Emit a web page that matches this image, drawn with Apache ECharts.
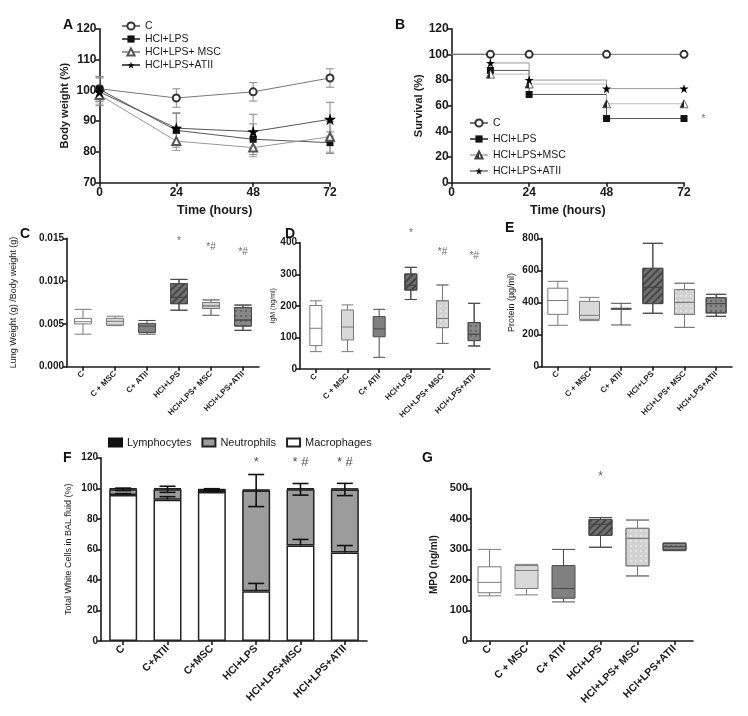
<!DOCTYPE html>
<html><head><meta charset="utf-8">
<script src="https://cdn.jsdelivr.net/npm/echarts@6/dist/echarts.min.js"></script>
<style>html,body{margin:0;padding:0;background:#fff}#c{width:748px;height:716px}</style>
</head><body><div id="c"></div>
<script>
// ---------------- DATA ----------------
// A: body weight (%)
const timeA = [0, 24, 48, 72];
const bwC = [100.5, 97.5, 99.5, 104.0];
const bwCErr = [4, 3, 3, 3];
const bwLPS = [100.3, 87.0, 84.1, 83.0];
const bwLPSErr = [4, 5.5, 5, 3.5];
const bwMSC = [98.5, 83.5, 81.4, 84.9];
const bwMSCErr = [3, 3, 3, 5];
const bwATII = [99.5, 87.7, 86.6, 90.6];
const bwATIIErr = [4.5, 5, 5.6, 5.5];
// B: survival (%)
const survTime = [0, 12, 24, 48, 72];
const survC = [100, 100, 100, 100, 100];
const survLPS = [100, 87.5, 68.75, 50, 50];
const survMSC = [100, 84.6, 76.9, 61.5, 61.5];
const survATII = [100, 93.3, 80, 73.3, 73.3];
// C, D, E, G categories
const boxCats = ['C', 'C + MSC', 'C+ ATII', 'HCl+LPS', 'HCl+LPS+ MSC', 'HCl+LPS+ATII'];
// [min, Q1, median, Q3, max]
const lungW = [
  [0.0038, 0.0050, 0.00526, 0.00565, 0.0067],
  [0.0048, 0.00487, 0.0053, 0.00565, 0.0059],
  [0.0038, 0.0040, 0.00475, 0.00506, 0.0054],
  [0.0066, 0.00736, 0.0081, 0.0097, 0.0102],
  [0.0060, 0.0068, 0.0071, 0.0075, 0.0078],
  [0.00425, 0.00475, 0.00545, 0.0069, 0.0072]
];
const igm = [
  [55, 74, 129, 201, 216],
  [55, 92, 133, 187, 203],
  [37, 102, 127, 166, 189],
  [220, 250, 265, 301, 322],
  [81, 131, 160, 216, 266],
  [73, 90, 110, 147, 208]
];
const protein = [
  [258, 326, 412, 489, 532],
  [287, 295, 320, 407, 432],
  [260, 358, 360, 364, 395],
  [333, 393, 495, 613, 769],
  [245, 326, 401, 480, 520],
  [314, 335, 393, 430, 451]
];
const mpo = [
  [148, 158, 192, 243, 300],
  [151, 172, 231, 247, 251],
  [128, 140, 172, 247, 300],
  [307, 346, 382, 398, 404],
  [213, 246, 336, 369, 396],
  [296, 298, 309, 320, 320]
];
// F: BAL cells (%)
const fCats = ['C', 'C+ATII', 'C+MSC', 'HCl+LPS', 'HCl+LPS+MSC', 'HCl+LPS+ATII'];
const macro = [95.5, 92.5, 97.5, 32.5, 62.5, 58.0];
const neutro = [3.8, 6.8, 1.5, 66.0, 36.8, 41.2];
const lymph = [0.7, 0.7, 0.5, 0.7, 0.7, 0.7];
const macroErr = [1, 2, 0.5, 5.2, 4, 4.5];
const totalErr = [0.8, 2, 0.7, 10.5, 3.8, 4];
// significance annotations [category/time, value, text]
const annC = [[3, 0.0146, '*'], [4, 0.0139, '*#'], [5, 0.01337, '*#']];
const annD = [[3, 430, '*'], [4, 371, '*#'], [5, 358, '*#']];
const annF = [[3, 117, '*'], [4, 117, '* #'], [5, 117, '* #']];
const annG = [[3, 538, '*']];
const annB = [[78, 50, '*']];

// ---------------- STYLE HELPERS ----------------
const INK = '#1a1a1a';
const STAR = 'path://M50,0L61.2,34.5L97.6,34.5L68.2,55.9L79.4,90.5L50,69.1L20.6,90.5L31.8,55.9L2.4,34.5L38.8,34.5Z';
const halfTri = {type: 'linear', x: 0, y: 0, x2: 1, y2: 0, colorStops: [
  {offset: 0, color: '#222'}, {offset: 0.5, color: '#222'}, {offset: 0.5, color: '#fff'}, {offset: 1, color: '#fff'}]};

function axLine() { return {show: true, lineStyle: {color: INK, width: 1.6}}; }
function axTick(align) { return {show: true, alignWithLabel: !!align, length: 4, lineStyle: {color: INK, width: 1.6}}; }
function yAx(grid, min, max, interval, fs, name, nameGap, nameFs, bold, fmt) {
  const a = {type: 'value', gridIndex: grid, min, max, interval,
    axisLine: axLine(), axisTick: axTick(), splitLine: {show: false},
    axisLabel: {fontSize: fs, fontWeight: 'bold', color: INK, margin: 3},
    name, nameLocation: 'middle', nameGap,
    nameTextStyle: {fontSize: nameFs, fontWeight: bold ? 'bold' : 'normal', color: INK}};
  if (fmt) a.axisLabel.formatter = fmt;
  return a;
}
function xCat(grid, cats, fs) {
  return {type: 'category', gridIndex: grid, data: cats, boundaryGap: true,
    axisLine: axLine(), axisTick: axTick(true),
    axisLabel: {rotate: 45, fontSize: fs, fontWeight: 'bold', color: INK, interval: 0, margin: 6}};
}
function xTime(grid) {
  return {type: 'value', gridIndex: grid, min: 0, max: 72, interval: 24,
    axisLine: axLine(), axisTick: axTick(), splitLine: {show: false},
    axisLabel: {fontSize: 12, fontWeight: 'bold', color: INK, margin: 4},
    name: 'Time (hours)', nameLocation: 'middle', nameGap: 21,
    nameTextStyle: {fontSize: 12.5, fontWeight: 'bold', color: INK}};
}
const hatch = {symbol: 'rect', symbolSize: 1, dashArrayX: [1, 0], dashArrayY: [1.2, 2.2], rotation: -Math.PI / 4, color: 'rgba(35,35,35,0.55)'};
const dotsLight = {symbol: 'circle', symbolSize: 0.8, dashArrayX: [1.4, 2.2], dashArrayY: [1.4, 2.2], color: 'rgba(255,255,255,0.9)'};
const dotsDark = {symbol: 'circle', symbolSize: 0.8, dashArrayX: [1.4, 2.2], dashArrayY: [1.4, 2.2], color: 'rgba(50,50,50,0.8)'};
const boxStyles = [
  {color: '#ffffff', borderColor: '#7a7a7a', borderWidth: 1},
  {color: '#d9d9d9', borderColor: '#7a7a7a', borderWidth: 1},
  {color: '#808080', borderColor: '#4a4a4a', borderWidth: 1},
  {color: '#707070', borderColor: '#4a4a4a', borderWidth: 1, decal: hatch},
  {color: '#d2d2d2', borderColor: '#7a7a7a', borderWidth: 1, decal: dotsLight},
  {color: '#878787', borderColor: '#4a4a4a', borderWidth: 1, decal: dotsDark}
];
function boxSeries(idx, data, w) {
  return {type: 'boxplot', xAxisIndex: idx, yAxisIndex: idx, boxWidth: [w, w], silent: true,
    data: data.map((d, i) => ({value: d, itemStyle: boxStyles[i]}))};
}
function annSeries(idx, arr, fs, color) {
  return {type: 'scatter', xAxisIndex: idx, yAxisIndex: idx, symbolSize: 1, clip: false, silent: true, z: 10,
    itemStyle: {color: 'rgba(0,0,0,0)'},
    data: arr.map(a => ({value: [a[0], a[1]], name: a[2]})),
    label: {show: true, position: 'inside', formatter: '{b}', fontSize: fs, color: color}};
}
function errA(x, y, e, color) {
  return {type: 'custom', xAxisIndex: 0, yAxisIndex: 0, silent: true, z: 2,
    data: x.map((t, i) => [t, y[i], e[i]]),
    renderItem: (p, api) => {
      const t = api.value(0), v = api.value(1), er = api.value(2);
      const a = api.coord([t, v + er]), b = api.coord([t, v - er]);
      const w = 4, st = {stroke: color, lineWidth: 1};
      return {type: 'group', children: [
        {type: 'line', shape: {x1: a[0], y1: a[1], x2: b[0], y2: b[1]}, style: st},
        {type: 'line', shape: {x1: a[0] - w, y1: a[1], x2: a[0] + w, y2: a[1]}, style: st},
        {type: 'line', shape: {x1: b[0] - w, y1: b[1], x2: b[0] + w, y2: b[1]}, style: st}]};
    }};
}
function errF(base, lo, hi) {
  return {type: 'custom', xAxisIndex: 5, yAxisIndex: 5, silent: true, z: 6,
    data: base.map((v, i) => [i, v, lo[i], hi[i]]),
    renderItem: (p, api) => {
      const i = api.value(0), v = api.value(1), l = api.value(2), h = api.value(3);
      const a = api.coord([i, v + h]), b = api.coord([i, v - l]);
      const w = 8, st = {stroke: '#111', lineWidth: 1.6};
      const ch = [{type: 'line', shape: {x1: a[0], y1: a[1], x2: b[0], y2: b[1]}, style: st},
                  {type: 'line', shape: {x1: a[0] - w, y1: a[1], x2: a[0] + w, y2: a[1]}, style: st}];
      if (l > 0) ch.push({type: 'line', shape: {x1: b[0] - w, y1: b[1], x2: b[0] + w, y2: b[1]}, style: st});
      return {type: 'group', children: ch};
    }};
}
const stackTop = macro.map((m, i) => m + neutro[i]);
const zeros = macro.map(() => 0);
const bNames = {sC: 'C', sLPS: 'HCl+LPS', sMSC: 'HCl+LPS+MSC', sATII: 'HCl+LPS+ATII'};
function firstNone(t, v) { return t.map((x, i) => i === 0 ? {value: [x, v[i]], symbol: 'none'} : [x, v[i]]); }

const letter = (t, l, tp) => ({text: t, left: l, top: tp, textStyle: {fontSize: 14, fontWeight: 'bold', color: '#111'}});

const option = {
  animation: false,
  textStyle: {fontFamily: 'Liberation Sans, Arial, sans-serif'},
  title: [letter('A', 58, 13), letter('B', 390, 13), letter('C', 15, 222), letter('D', 280, 222),
          letter('E', 500, 216), letter('F', 58, 446), letter('G', 417, 446)],
  grid: [
    {left: 99.5, top: 28.7, width: 230.5, height: 154},
    {left: 451.7, top: 28.7, width: 232.3, height: 154},
    {left: 67, top: 238.3, width: 192, height: 128.4},
    {left: 300, top: 242.7, width: 190, height: 126.3},
    {left: 542, top: 238.3, width: 190, height: 128.4},
    {left: 101, top: 457.7, width: 266, height: 183.3},
    {left: 471, top: 488.3, width: 222, height: 152.7}
  ],
  xAxis: [xTime(0), xTime(1), xCat(2, boxCats, 8), xCat(3, boxCats, 8), xCat(4, boxCats, 8),
          xCat(5, fCats, 10.5), xCat(6, boxCats, 10.5)],
  yAxis: [
    yAx(0, 70, 120, 10, 12, 'Body weight (%)', 29, 11, true),
    yAx(1, 0, 120, 20, 12, 'Survival (%)', 27, 11, true),
    yAx(2, 0, 0.015, 0.005, 10, 'Lung Weight (g) /Body weight (g)', 49, 9, false, v => v.toFixed(3)),
    yAx(3, 0, 400, 100, 10, 'IgM (ng/ml)', 20, 7, false),
    yAx(4, 0, 800, 200, 10, 'Protein (µg/ml)', 26, 9, false),
    yAx(5, 0, 120, 20, 10, 'Total White Cells in BAL fluid (%)', 28, 9, false),
    yAx(6, 0, 500, 100, 11, 'MPO (ng/ml)', 32, 10, true)
  ],
  legend: [
    {orient: 'vertical', left: 116, top: 15, itemWidth: 18, itemHeight: 9, itemGap: 1,
     textStyle: {fontSize: 10.5, lineHeight: 12, color: INK},
     data: ['C', 'HCl+LPS', 'HCl+LPS+ MSC', 'HCl+LPS+ATII']},
    {orient: 'vertical', left: 464, top: 112, itemWidth: 18, itemHeight: 9, itemGap: 4,
     textStyle: {fontSize: 10.5, lineHeight: 12, color: INK},
     formatter: n => bNames[n], data: ['sC', 'sLPS', 'sMSC', 'sATII']},
    {orient: 'horizontal', left: 103, top: 432, itemWidth: 13, itemHeight: 8, itemGap: 10, icon: 'rect',
     textStyle: {fontSize: 11, color: INK},
     data: ['Lymphocytes', 'Neutrophils', 'Macrophages']}
  ],
  series: [
    // A
    errA(timeA, bwC, bwCErr, '#888'), errA(timeA, bwLPS, bwLPSErr, '#888'),
    errA(timeA, bwMSC, bwMSCErr, '#999'), errA(timeA, bwATII, bwATIIErr, '#888'),
    {name: 'C', type: 'line', xAxisIndex: 0, yAxisIndex: 0, z: 3, data: timeA.map((t, i) => [t, bwC[i]]),
     symbol: 'emptyCircle', symbolSize: 7, lineStyle: {color: '#777', width: 1}, itemStyle: {color: '#333', borderWidth: 1.5}},
    {name: 'HCl+LPS', type: 'line', xAxisIndex: 0, yAxisIndex: 0, z: 3, data: timeA.map((t, i) => [t, bwLPS[i]]),
     symbol: 'rect', symbolSize: 7, lineStyle: {color: '#555', width: 1}, itemStyle: {color: '#111'}},
    {name: 'HCl+LPS+ MSC', type: 'line', xAxisIndex: 0, yAxisIndex: 0, z: 3, data: timeA.map((t, i) => [t, bwMSC[i]]),
     symbol: 'emptyTriangle', symbolSize: 8, lineStyle: {color: '#999', width: 1}, itemStyle: {color: '#555', borderWidth: 1.2}},
    {name: 'HCl+LPS+ATII', type: 'line', xAxisIndex: 0, yAxisIndex: 0, z: 3, data: timeA.map((t, i) => [t, bwATII[i]]),
     symbol: STAR, symbolSize: 12, lineStyle: {color: '#555', width: 1}, itemStyle: {color: '#000'}},
    // B
    {name: 'sC', type: 'line', step: 'end', xAxisIndex: 1, yAxisIndex: 1, z: 4, data: firstNone(survTime, survC),
     symbol: 'emptyCircle', symbolSize: 7, lineStyle: {color: '#777', width: 1}, itemStyle: {color: '#333', borderWidth: 1.5}},
    {name: 'sLPS', type: 'line', step: 'end', xAxisIndex: 1, yAxisIndex: 1, z: 3, data: firstNone(survTime, survLPS),
     symbol: 'rect', symbolSize: 7, lineStyle: {color: '#555', width: 1}, itemStyle: {color: '#111'}},
    {name: 'sMSC', type: 'line', step: 'end', xAxisIndex: 1, yAxisIndex: 1, z: 3, data: firstNone(survTime, survMSC),
     symbol: 'triangle', symbolSize: 8, lineStyle: {color: '#bbb', width: 1}, itemStyle: {color: halfTri, borderColor: '#444', borderWidth: 0.8}},
    {name: 'sATII', type: 'line', step: 'end', xAxisIndex: 1, yAxisIndex: 1, z: 3, data: firstNone(survTime, survATII),
     symbol: STAR, symbolSize: 9, lineStyle: {color: '#999', width: 1}, itemStyle: {color: '#000'}},
    annSeries(1, annB, 11, '#555'),
    // C, D, E
    boxSeries(2, lungW, 17), annSeries(2, annC, 10, '#444'),
    boxSeries(3, igm, 12), annSeries(3, annD, 10, '#444'),
    boxSeries(4, protein, 20),
    // F
    {name: 'Macrophages', type: 'bar', stack: 'f', xAxisIndex: 5, yAxisIndex: 5, barWidth: 28, data: macro,
     itemStyle: {color: '#ffffff', borderColor: '#222', borderWidth: 1.5}},
    {name: 'Neutrophils', type: 'bar', stack: 'f', xAxisIndex: 5, yAxisIndex: 5, barWidth: 28, data: neutro,
     itemStyle: {color: '#9c9c9c', borderColor: '#222', borderWidth: 1.5}},
    {name: 'Lymphocytes', type: 'bar', stack: 'f', xAxisIndex: 5, yAxisIndex: 5, barWidth: 28, data: lymph,
     itemStyle: {color: '#111', borderColor: '#111', borderWidth: 1}},
    errF(macro, zeros, macroErr), errF(stackTop, totalErr, totalErr),
    annSeries(5, annF, 13, '#222'),
    // G
    boxSeries(6, mpo, 23), annSeries(6, annG, 12, '#333')
  ]
};
const chart = echarts.init(document.getElementById('c'));
chart.setOption(option);
</script></body></html>
